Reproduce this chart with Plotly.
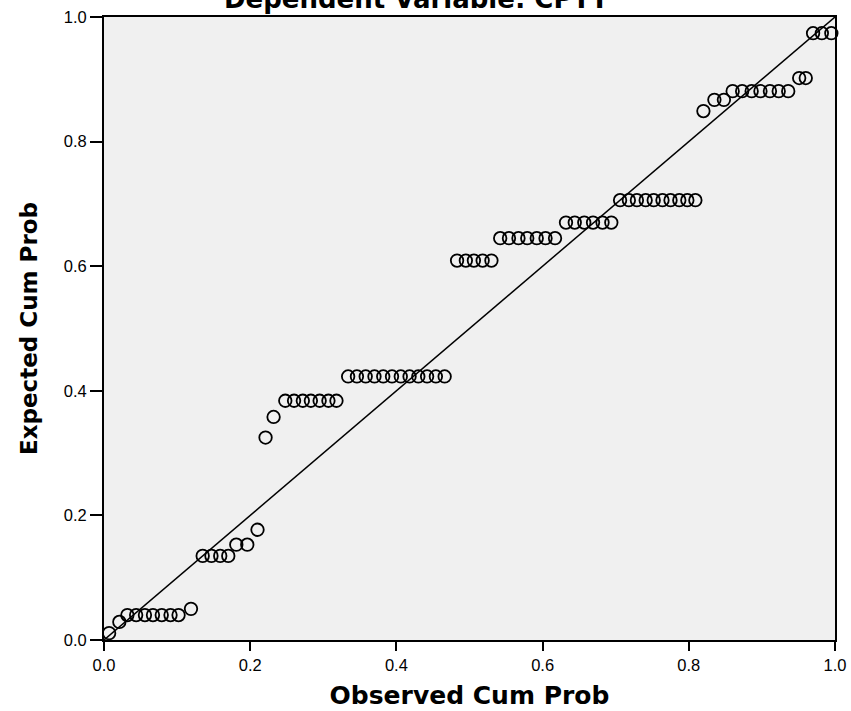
import plotly.graph_objects as go

# Observed cumulative probability (x) and expected cumulative probability (y)
observed = [
    0.007, 0.021,
    0.032, 0.044, 0.056, 0.067, 0.079, 0.091, 0.102,
    0.119,
    0.135, 0.147, 0.159, 0.170,
    0.181, 0.196,
    0.210, 0.221, 0.232,
    0.248, 0.260, 0.272, 0.283, 0.295, 0.307, 0.318,
    0.334, 0.346, 0.358, 0.370, 0.382, 0.394, 0.406, 0.418, 0.430, 0.442, 0.454, 0.466,
    0.483, 0.495, 0.506, 0.518, 0.530,
    0.542, 0.554, 0.567, 0.579, 0.592, 0.604, 0.617,
    0.632, 0.644, 0.657, 0.669, 0.682, 0.694,
    0.706, 0.718, 0.729, 0.741, 0.752, 0.764, 0.775, 0.787, 0.798, 0.809,
    0.820,
    0.835, 0.848,
    0.860, 0.873, 0.886, 0.898, 0.911, 0.923, 0.936,
    0.951, 0.960,
    0.970, 0.982, 0.995,
]
expected = [
    0.011, 0.029,
    0.040, 0.040, 0.040, 0.040, 0.040, 0.040, 0.040,
    0.050,
    0.135, 0.135, 0.135, 0.135,
    0.153, 0.153,
    0.177, 0.325, 0.358,
    0.384, 0.384, 0.384, 0.384, 0.384, 0.384, 0.384,
    0.423, 0.423, 0.423, 0.423, 0.423, 0.423, 0.423, 0.423, 0.423, 0.423, 0.423, 0.423,
    0.609, 0.609, 0.609, 0.609, 0.609,
    0.645, 0.645, 0.645, 0.645, 0.645, 0.645, 0.645,
    0.670, 0.670, 0.670, 0.670, 0.670, 0.670,
    0.706, 0.706, 0.706, 0.706, 0.706, 0.706, 0.706, 0.706, 0.706, 0.706,
    0.849,
    0.867, 0.867,
    0.881, 0.881, 0.881, 0.881, 0.881, 0.881, 0.881,
    0.902, 0.902,
    0.974, 0.974, 0.974,
]
ref_line = [0.0, 1.0]
tick_vals = [0.0, 0.2, 0.4, 0.6, 0.8, 1.0]
tick_text = ["0.0", "0.2", "0.4", "0.6", "0.8", "1.0"]

fig = go.Figure()
fig.add_trace(go.Scatter(
    x=ref_line, y=ref_line, mode="lines",
    line=dict(color="black", width=1.5), showlegend=False, hoverinfo="skip"))
fig.add_trace(go.Scatter(
    x=observed, y=expected, mode="markers",
    marker=dict(symbol="circle-open", size=12.5, color="black", line=dict(width=1.8)),
    showlegend=False, cliponaxis=False))

font_main = "Liberation Sans, Arial, sans-serif"
font_title = "DejaVu Sans, Verdana, sans-serif"
fig.update_layout(
    width=851, height=711,
    margin=dict(l=104, r=16, t=17, b=71, autoexpand=False),
    paper_bgcolor="white", plot_bgcolor="#F0F0F0",
    font=dict(family=font_main, color="black", size=16),
    annotations=[dict(
        text="<b>Dependent Variable: CPTT</b>", xref="paper", yref="paper",
        x=0.428, y=1.029, xanchor="center", yanchor="middle", showarrow=False,
        font=dict(size=26, family=font_title, color="black"))],
)
fig.update_xaxes(
    range=[0, 1], tickvals=tick_vals, ticktext=tick_text, automargin=False,
    ticks="outside", ticklen=9, tickwidth=1.5, tickcolor="black",
    showline=True, linecolor="black", linewidth=2, mirror=True,
    showgrid=False, zeroline=False,
    title=dict(text="<b>Observed Cum Prob</b>", font=dict(size=25, family=font_title), standoff=14),
    tickfont=dict(size=16.5))
fig.update_yaxes(
    range=[0, 1], tickvals=tick_vals, ticktext=tick_text, automargin=False,
    ticks="outside", ticklen=12, tickwidth=1.5, tickcolor="black",
    showline=True, linecolor="black", linewidth=2, mirror=True,
    showgrid=False, zeroline=False,
    title=dict(text="<b>Expected Cum Prob</b>", font=dict(size=23, family=font_title), standoff=20),
    tickfont=dict(size=16.5))

fig.write_html("out.html")
